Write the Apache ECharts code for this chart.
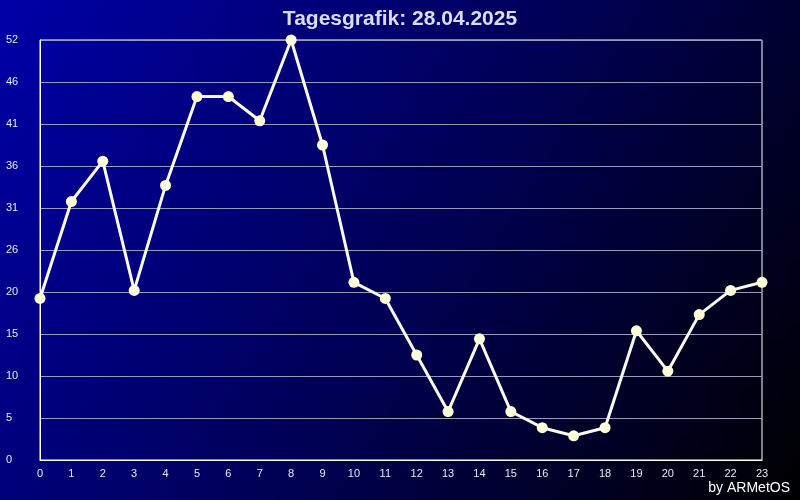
<!DOCTYPE html>
<html><head><meta charset="utf-8">
<script src="https://cdn.jsdelivr.net/npm/echarts@6/dist/echarts.min.js"></script>
<style>html,body{margin:0;padding:0;background:#000}#c{width:800px;height:500px}</style>
</head><body><div id="c"></div>
<script>
const hours = ['0','1','2','3','4','5','6','7','8','9','10','11','12','13','14','15','16','17','18','19','20','21','22','23'];
const values = [20, 32, 37, 21, 34, 45, 45, 42, 52, 39, 22, 20, 13, 6, 15, 6, 4, 3, 4, 16, 11, 18, 21, 22];
const yMax = 52;
const yStep = 5.2;
const titleText = 'Tagesgrafik: 28.04.2025';
const creditText = 'by ARMetOS';

const chart = echarts.init(document.getElementById('c'), null, {renderer: 'canvas'});
chart.setOption({
  animation: false,
  backgroundColor: new echarts.graphic.LinearGradient(0, 0, 1, 1, [
    {offset: 0, color: '#0000a8'},
    {offset: 0.55, color: '#000050'},
    {offset: 1, color: '#000000'}
  ]),
  title: {
    text: titleText, left: 'center', top: 4,
    textStyle: {color: '#dcdcf0', fontFamily: 'Liberation Sans, Arial', fontWeight: 'bold', fontSize: 21}
  },
  graphic: [{
    type: 'text', right: 10, bottom: 5,
    style: {text: creditText, fill: '#ffffff', font: '14px "Liberation Sans", Arial'}
  }],
  grid: {left: 40, right: 38, top: 40, bottom: 40, show: true, borderColor: '#ffffff', borderWidth: 1},
  xAxis: {
    type: 'category', data: hours, boundaryGap: false,
    axisLine: {lineStyle: {color: '#ffffff', width: 1}},
    axisTick: {show: false},
    axisLabel: {color: '#e8e8f0', fontSize: 11, fontFamily: 'Liberation Sans, Arial', margin: 8, interval: 0},
    splitLine: {show: false}
  },
  yAxis: {
    type: 'value', min: 0, max: yMax, interval: yStep,
    axisLine: {show: true, lineStyle: {color: '#ffffff', width: 1}},
    axisTick: {show: false},
    axisLabel: {color: '#e8e8f0', fontSize: 11, fontFamily: 'Liberation Sans, Arial', align: 'left', margin: 34,
      formatter: v => String(Math.floor(v + 1e-6))},
    splitLine: {lineStyle: {color: '#9a9ab8', width: 1}}
  },
  series: [{
    type: 'line', data: values,
    lineStyle: {color: '#fbfbf2', width: 3},
    symbol: 'circle', symbolSize: 11,
    itemStyle: {color: '#ffffdc', borderWidth: 0}
  }]
});
</script></body></html>
